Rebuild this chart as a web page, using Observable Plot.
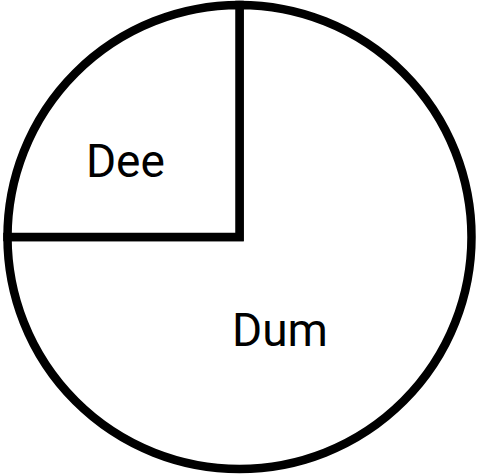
<!DOCTYPE html>
<html>
<head>
<meta charset="utf-8">
<script src="https://cdn.jsdelivr.net/npm/d3@7"></script>
<script src="https://cdn.jsdelivr.net/npm/@observablehq/plot@0.6"></script>
<style>
  html, body { margin: 0; padding: 0; background: #fff; }
  #chart { width: 477px; height: 474px; }
</style>
</head>
<body>
<div id="chart"></div>
<script>
// Data
const categories = ["Dum", "Dee"];
const values = [75, 25];

// Layout (label placement in unit-circle coordinates, +y downward)
const labelOffsets = { Dum: [0.172, 0.405], Dee: [-0.494, -0.323] };

const cx = 239.5, cy = 237, R = 232;
const strokeW = 8.5;

const slices = d3.pie().sort(null).value((d, i) => values[i])(categories);

const labels = categories.map(c => ({ name: c, x: labelOffsets[c][0], y: labelOffsets[c][1] }));

function pieMark(index, scales) {
  const x = scales.x, y = scales.y;
  const ox = x(0), oy = y(0);
  const r = x(1) - x(0);
  const arc = d3.arc().innerRadius(0).outerRadius(r);
  const g = d3.create("svg:g").attr("transform", `translate(${ox},${oy})`);
  g.selectAll("path")
    .data(slices)
    .join("path")
    .attr("d", arc)
    .attr("fill", "white")
    .attr("stroke", "black")
    .attr("stroke-width", strokeW)
    .attr("stroke-linejoin", "miter");
  return g.node();
}

const chart = Plot.plot({
  width: 477,
  height: 474,
  margin: 0,
  x: { domain: [-1, 1], range: [cx - R, cx + R], axis: null },
  y: { domain: [-1, 1], range: [cy - R, cy + R], axis: null },
  style: { background: "white" },
  marks: [
    pieMark,
    Plot.text(labels, {
      x: "x",
      y: "y",
      text: "name",
      fontSize: 46,
      fontFamily: "Roboto",
      fill: "black",
      textAnchor: "middle",
      lineAnchor: "middle"
    })
  ]
});
document.getElementById("chart").appendChild(chart);
</script>
</body>
</html>
